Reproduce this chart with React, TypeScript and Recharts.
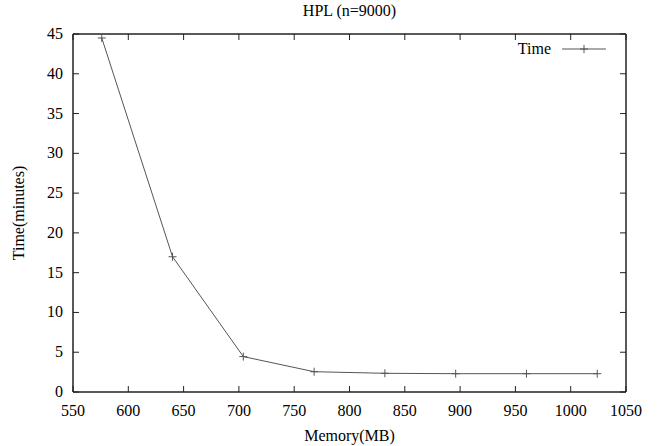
import { LineChart, Line, XAxis, YAxis } from "recharts";

const memory = [576, 640, 704, 768, 832, 896, 960, 1024];
const minutes = [44.5, 17, 4.45, 2.55, 2.35, 2.3, 2.3, 2.3];
const xTicks = [550, 600, 650, 700, 750, 800, 850, 900, 950, 1000, 1050];
const yTicks = [0, 5, 10, 15, 20, 25, 30, 35, 40, 45];

const data = memory.map((m, i) => ({ memory: m, time: minutes[i] }));

const FONT = "Liberation Serif";
const AXIS = "#222";
const LINE = "#555";
const TICK = 6;
const txt = { fontFamily: FONT, fontSize: 16, fill: "#000" };

function BottomTick(props: any) {
  const { x, y, payload } = props;
  return (
    <g>
      <line x1={x} y1={y} x2={x} y2={y - TICK} stroke={AXIS} strokeWidth={1} />
      <text x={x} y={y + 24} textAnchor="middle" style={txt}>
        {payload.value}
      </text>
    </g>
  );
}

function TopTick(props: any) {
  const { x, y } = props;
  return <line x1={x} y1={y} x2={x} y2={y + TICK} stroke={AXIS} strokeWidth={1} />;
}

function LeftTick(props: any) {
  const { x, y, payload } = props;
  return (
    <g>
      <line x1={x} y1={y} x2={x + TICK} y2={y} stroke={AXIS} strokeWidth={1} />
      <text x={x - 10} y={y + 5} textAnchor="end" style={txt}>
        {payload.value}
      </text>
    </g>
  );
}

function RightTick(props: any) {
  const { x, y } = props;
  return <line x1={x} y1={y} x2={x - TICK} y2={y} stroke={AXIS} strokeWidth={1} />;
}

function PlusDot(props: any) {
  const { cx, cy, index } = props;
  if (cx == null || cy == null) return null;
  return (
    <path
      key={"dot-" + index}
      d={`M${cx - 4},${cy}H${cx + 4}M${cx},${cy - 4}V${cy + 4}`}
      stroke={LINE}
      strokeWidth={1}
      fill="none"
    />
  );
}

export default function App() {
  return (
    <div
      style={{
        position: "absolute",
        left: 0,
        top: 0,
        width: 658,
        height: 446,
        background: "#fff",
        fontFamily: FONT,
      }}
    >
      <LineChart width={658} height={446} data={data} margin={{ top: 33, right: 31, bottom: 0, left: 0 }}>
        <XAxis
          xAxisId="bottom"
          dataKey="memory"
          type="number"
          domain={[550, 1050]}
          ticks={xTicks}
          interval={0}
          height={54}
          tickSize={0}
          tickMargin={0}
          tick={<BottomTick />}
          stroke={AXIS}
          strokeWidth={1.5}
        />
        <XAxis
          xAxisId="top"
          orientation="top"
          dataKey="memory"
          type="number"
          domain={[550, 1050]}
          ticks={xTicks}
          interval={0}
          height={1}
          tickSize={0}
          tickMargin={0}
          tick={<TopTick />}
          stroke={AXIS}
          strokeWidth={1.5}
        />
        <YAxis
          yAxisId="left"
          type="number"
          domain={[0, 45]}
          ticks={yTicks}
          interval={0}
          width={73}
          tickSize={0}
          tickMargin={0}
          tick={<LeftTick />}
          stroke={AXIS}
          strokeWidth={1.5}
        />
        <YAxis
          yAxisId="right"
          orientation="right"
          type="number"
          domain={[0, 45]}
          ticks={yTicks}
          interval={0}
          width={1}
          tickSize={0}
          tickMargin={0}
          tick={<RightTick />}
          stroke={AXIS}
          strokeWidth={1.5}
        />
        <Line
          xAxisId="top"
          yAxisId="right"
          type="linear"
          dataKey="time"
          stroke="none"
          dot={false}
          activeDot={false}
          legendType="none"
          isAnimationActive={false}
        />
        <Line
          xAxisId="bottom"
          yAxisId="left"
          type="linear"
          dataKey="time"
          stroke={LINE}
          strokeWidth={1}
          dot={<PlusDot />}
          activeDot={false}
          isAnimationActive={false}
        />
        <text x={349.5} y={16} textAnchor="middle" style={txt}>
          HPL (n=9000)
        </text>
        <text x={349.5} y={441} textAnchor="middle" style={txt}>
          Memory(MB)
        </text>
        <text x={24} y={213} transform="rotate(-90 24 213)" textAnchor="middle" style={txt}>
          Time(minutes)
        </text>
        <text x={551} y={54} textAnchor="end" style={txt}>
          Time
        </text>
        <line x1={562} y1={49} x2={606} y2={49} stroke={LINE} strokeWidth={1} />
        <path d="M580,49H588M584,45V53" stroke={LINE} strokeWidth={1} fill="none" />
      </LineChart>
    </div>
  );
}
